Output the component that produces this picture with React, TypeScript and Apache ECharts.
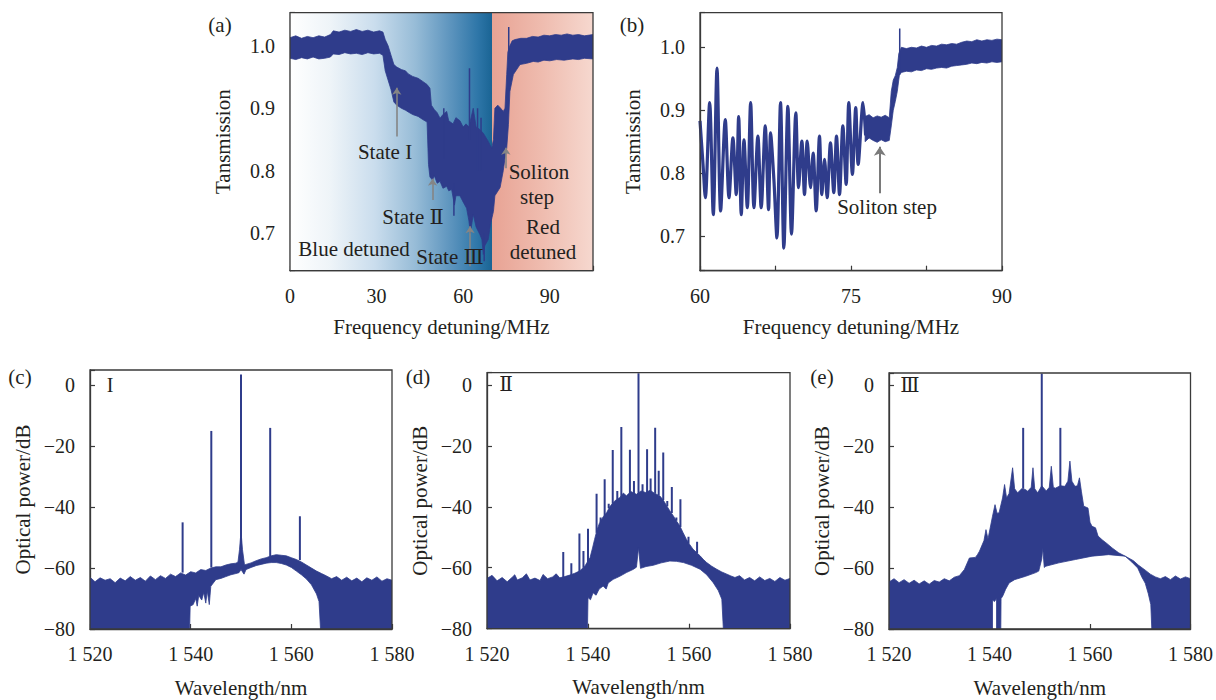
import React, { useEffect, useRef } from 'react';
import * as echarts from 'echarts';

const NAVY = '#2f3c8b';
const FONT = "'Liberation Serif', 'Times New Roman', 'DejaVu Serif', serif";
const TXT = '#231f20';
const AXC = '#3a3a3a';

// ---------- Panel (a): transmission vs detuning ----------
const aUpper = [
  [0, 1.013], [2, 1.016], [4, 1.012], [6, 1.015], [8, 1.013], [10, 1.016], [12, 1.014], [14, 1.018],
  [15, 1.024], [17, 1.022], [19, 1.025], [21, 1.023], [23, 1.026], [25, 1.023], [27, 1.025], [29, 1.022],
  [31, 1.024], [32.2, 1.022], [33, 1.01], [34, 1.0], [35, 0.985], [36, 0.97], [37, 0.966], [38.6, 0.962],
  [40, 0.96], [41, 0.955], [42.5, 0.951], [44.4, 0.948], [46, 0.943], [47.5, 0.938], [48.5, 0.932],
  [49, 0.905], [50, 0.898], [51, 0.893], [52, 0.884], [53, 0.89], [54.3, 0.895], [55, 0.88], [56.5, 0.875],
  [57.5, 0.885], [58.9, 0.88], [60, 0.87], [61, 0.875], [62, 0.87], [63.5, 0.9], [64.5, 0.87], [65.8, 0.866],
  [67, 0.86], [68.7, 0.847], [69.9, 0.836], [70.5, 0.85], [71, 0.9], [72, 0.905], [73, 0.9], [73.9, 0.895],
  [74.5, 0.9], [75.1, 0.954], [75.5, 0.99], [76.2, 1.0], [77, 1.008], [78, 1.01], [80, 1.012], [82, 1.012],
  [84, 1.015], [86, 1.014], [88, 1.017], [90, 1.016], [92, 1.018], [94, 1.017], [96, 1.019], [98, 1.017],
  [100, 1.018], [102, 1.016], [105, 1.018],
];
const aLower = [
  [0, 0.98], [2, 0.978], [4, 0.981], [6, 0.979], [8, 0.982], [10, 0.979], [12, 0.98], [14, 0.982],
  [15, 0.987], [17, 0.986], [19, 0.989], [21, 0.987], [23, 0.988], [25, 0.986], [27, 0.989], [29, 0.987],
  [31, 0.988], [32.2, 0.985], [33, 0.96], [34, 0.945], [35, 0.93], [36, 0.91], [37, 0.905], [38.6, 0.9],
  [40, 0.897], [41, 0.894], [42.5, 0.89], [44.4, 0.887], [46, 0.882], [47.5, 0.878], [48, 0.81], [48.5, 0.79],
  [49.4, 0.785], [50, 0.792], [51, 0.78], [52, 0.783], [53, 0.772], [54.3, 0.775], [55, 0.768], [56, 0.77],
  [57, 0.745], [57.5, 0.76], [58.9, 0.76], [60, 0.75], [61.2, 0.74], [62, 0.72], [62.5, 0.7], [63, 0.715],
  [63.5, 0.73], [64.5, 0.71], [65.8, 0.698], [66.5, 0.69], [67, 0.666], [67.5, 0.68], [68.7, 0.69],
  [69.5, 0.715], [70.5, 0.735], [71, 0.76], [72.8, 0.773], [73.9, 0.8], [74.5, 0.82], [75.1, 0.836],
  [75.7, 0.874], [76.2, 0.927], [77.4, 0.954], [79.7, 0.97], [82, 0.972], [84.3, 0.975], [86, 0.974],
  [88, 0.977], [90, 0.976], [92.4, 0.978], [95, 0.977], [98, 0.979], [100, 0.978], [102, 0.98], [105, 0.979],
];
// [x, from, to]
const aSpikes = [
  [53.3, 0.82, 0.9], [56.8, 0.78, 0.728], [62.2, 0.85, 0.964], [65.0, 0.8, 0.9], [66.2, 0.8, 0.885],
  [67.3, 0.7, 0.655], [75.8, 0.98, 1.03],
];
const aTicksX = [0, 30, 60, 90];
const aTicksY = [0.7, 0.8, 0.9, 1.0];

// ---------- Panel (b): zoomed transmission ----------
const bLine = [
  [60.0, 0.883], [60.3, 0.814], [60.53, 0.761], [60.96, 0.912], [61.32, 0.734], [61.69, 0.967], [62.05, 0.74],
  [62.51, 0.885], [62.88, 0.761], [63.27, 0.856], [63.6, 0.766], [63.84, 0.89], [64.1, 0.734], [64.37, 0.853],
  [64.7, 0.745], [65.03, 0.912], [65.36, 0.745], [65.75, 0.859], [66.08, 0.745], [66.48, 0.875], [66.81, 0.742],
  [67.01, 0.864], [67.34, 0.79], [67.64, 0.697], [68.0, 0.912], [68.33, 0.681], [68.73, 0.906], [69.09, 0.703],
  [69.52, 0.896], [69.79, 0.777], [70.12, 0.851], [70.38, 0.766], [70.65, 0.851], [70.98, 0.777], [71.24, 0.832],
  [71.54, 0.74], [71.87, 0.859], [72.1, 0.766], [72.37, 0.822], [72.63, 0.761], [72.96, 0.848], [73.29, 0.769],
  [73.56, 0.859], [73.86, 0.766], [74.19, 0.875], [74.52, 0.782], [74.78, 0.912], [75.14, 0.798], [75.47, 0.904],
  [75.71, 0.814], [76.2, 0.912], [76.45, 0.86],
];
const bUpper = [
  [76.4, 0.89], [76.8, 0.893], [77.2, 0.888], [77.6, 0.891], [78.0, 0.889], [78.4, 0.892], [78.8, 0.888],
  [79.0, 0.93], [79.2, 0.948], [79.4, 0.955], [79.6, 0.968], [79.75, 0.99], [80, 1.0], [80.5, 0.998], [81, 1.0],
  [81.5, 0.999], [82, 1.002], [82.5, 1.0], [83, 1.003], [83.5, 1.002], [84, 1.005], [84.5, 1.004], [85, 1.006],
  [85.5, 1.005], [86, 1.008], [86.5, 1.01], [87, 1.009], [87.5, 1.012], [88, 1.01], [88.5, 1.012], [89, 1.011],
  [89.5, 1.013], [90, 1.012],
];
const bLower = [
  [76.4, 0.85], [76.8, 0.856], [77.2, 0.852], [77.6, 0.849], [78.0, 0.853], [78.4, 0.85], [78.8, 0.852],
  [79.0, 0.875], [79.2, 0.9], [79.4, 0.914], [79.6, 0.93], [79.8, 0.955], [80, 0.96], [80.5, 0.962], [81, 0.961],
  [81.5, 0.964], [82, 0.963], [82.5, 0.966], [83, 0.965], [83.5, 0.967], [84, 0.968], [84.5, 0.967], [85, 0.97],
  [85.5, 0.971], [86, 0.972], [86.5, 0.973], [87, 0.975], [87.5, 0.974], [88, 0.976], [88.5, 0.975], [89, 0.977],
  [89.5, 0.976], [90, 0.977],
];
const bSpikes = [[79.84, 0.96, 1.03]];
const bTicksX = [60, 75, 90];

// ---------- Panel (c): spectrum, state I ----------
const cUpper = [
  [1520, -63], [1521, -64.5], [1522, -63.2], [1523, -64], [1524, -63.5], [1525, -64.8], [1526, -63.3],
  [1527, -64.2], [1528, -62.8], [1529, -64], [1530, -63.1], [1531, -64.3], [1532, -62.6], [1533, -63.8],
  [1534, -62.5], [1535, -63.4], [1536, -62], [1537, -62.8], [1538, -61.6], [1539, -62.3], [1540, -61.2],
  [1541, -61.6], [1542, -60.5], [1543, -60.8], [1544, -60], [1545, -59.6], [1546, -59.6], [1547, -59],
  [1548, -58.6], [1549, -58.4], [1549.4, -58], [1549.7, -54], [1549.9, -50], [1550.1, -50], [1550.3, -54],
  [1550.7, -59], [1551, -58.8], [1552, -58.3], [1553, -57.6], [1554, -57], [1555, -56.6], [1556, -56],
  [1557, -55.6], [1558, -55.8], [1559, -56], [1560, -56.6], [1561, -57.2], [1562, -58], [1563, -59],
  [1564, -60], [1565, -61], [1566, -61.8], [1567, -62.6], [1568, -63.5], [1569, -62.8], [1570, -64],
  [1571, -63], [1572, -64.2], [1573, -63.3], [1574, -64.5], [1575, -63.2], [1576, -64], [1577, -62.9],
  [1578, -64.3], [1579, -63.5], [1580, -64],
];
const cLower = [
  [1520, -80], [1539.8, -80], [1539.9, -72.5], [1540.5, -72], [1541, -70], [1541.3, -72.5], [1541.6, -69],
  [1542.2, -70.5], [1542.6, -68], [1543, -71.5], [1543.3, -67.5], [1543.7, -72], [1544, -66], [1545, -63.8],
  [1546, -63.4], [1547, -62.8], [1548, -62.2], [1549, -61.8], [1549.6, -61.5], [1550, -60.5], [1550.6, -62],
  [1551, -60.5], [1552, -59.8], [1553, -59.2], [1554, -58.8], [1555, -58.4], [1556, -58.2], [1557, -58.2],
  [1558, -58.5], [1559, -59], [1560, -59.8], [1561, -61], [1562, -62.2], [1563, -63.6], [1564, -65.5],
  [1565, -68.5], [1565.5, -71], [1565.8, -80], [1580, -80],
];
// [x, base, top]
const cSpikes = [
  [1538.4, -61.5, -45], [1544.1, -59.8, -15], [1550, -52, 3.5], [1555.8, -56.2, -14], [1561.7, -57.4, -43],
];

// ---------- Panel (d): spectrum, state II ----------
const dUpper = [
  [1520, -63.5], [1521, -62.5], [1522, -64.3], [1523, -63.2], [1524, -64.6], [1525, -63.1], [1525.5, -62.3],
  [1526, -64], [1527, -63.3], [1527.8, -62], [1528.5, -64], [1529.5, -63.4], [1530.5, -64.2], [1531.1, -62.2],
  [1532, -63.6], [1533, -63], [1533.7, -62], [1534.4, -63.3], [1535.4, -62.9], [1536.4, -62.4], [1537.4, -61.8],
  [1538.4, -61], [1539.4, -59.4], [1540.4, -56.7], [1540.9, -53.5], [1541.3, -50.7], [1541.8, -47.5],
  [1542.3, -45.2], [1543.0, -43.3], [1543.7, -41.9], [1544.3, -40], [1545.0, -38.6], [1545.6, -37.6],
  [1546.3, -37], [1547, -35.5], [1547.6, -36.4], [1548.5, -35], [1549.6, -35.9], [1550.5, -34.8],
  [1551.4, -35.3], [1552.3, -34.6], [1553.2, -35.6], [1554.2, -36.4], [1554.9, -37.8], [1555.6, -39.7],
  [1556.2, -41.3], [1556.9, -43], [1557.5, -44.6], [1558.2, -46.3], [1558.8, -48.4], [1559.5, -50.7],
  [1560.1, -52.3], [1560.8, -53.9], [1561.5, -55], [1562.2, -56.1], [1562.8, -57.2], [1563.5, -58.3],
  [1564.5, -59.5], [1565.5, -60.5], [1566.5, -61.4], [1567.5, -62.1], [1568.3, -62.7], [1569.1, -63.2],
  [1570, -62.6], [1571, -64], [1572, -63.2], [1573, -64.3], [1574, -63], [1575, -64.2], [1576, -63.5],
  [1577, -64.5], [1578, -63.2], [1579, -64.1], [1580, -63.5],
];
const dLower = [
  [1520, -80], [1539.9, -80], [1540.0, -69.8], [1540.5, -70.5], [1541.0, -68.2], [1541.6, -69], [1542.2, -67],
  [1543.0, -66], [1543.6, -67], [1544, -65], [1545.0, -63.8], [1546.3, -62.8], [1547.6, -61.6], [1549.0, -60.5],
  [1549.6, -59.8], [1550.0, -53.4], [1550.4, -60.2], [1551.5, -59.6], [1552.9, -59.2], [1554.5, -58.4],
  [1556.2, -57.8], [1557.5, -57.9], [1558.9, -58.3], [1560.5, -59.2], [1562.2, -60.5], [1563.5, -62.3],
  [1564.8, -64.9], [1565.8, -67.5], [1566.5, -70.3], [1566.8, -80], [1580, -80],
];
const dSpikes = [
  [1535.1, -63, -54.8], [1536.7, -62.5, -58.5], [1538.3, -61.3, -48.8], [1539.1, -60, -54.5],
  [1540.0, -58.3, -47.2], [1541.7, -48.5, -35.7], [1542.5, -45, -43.5], [1543.3, -43, -31], [1544.1, -40.5, -39],
  [1544.9, -39, -21.4], [1545.8, -37.5, -34.8], [1546.6, -37, -13.8], [1548.3, -36.2, -21.3], [1549.1, -36, -31.5],
  [1550.0, -36, 3.8], [1550.8, -35.6, -32.6], [1551.7, -35.4, -21.1], [1552.4, -35.3, -30.7], [1553.3, -35.7, -14.1],
  [1554.0, -36.2, -28.2], [1554.9, -37.8, -22.2], [1555.7, -39.8, -38.1], [1556.6, -42, -33.5],
  [1557.5, -44.6, -43.5], [1558.3, -46.6, -37.5], [1559.9, -52, -49.8], [1561.6, -55.2, -51.5],
];

// ---------- Panel (e): spectrum, state III ----------
const eUpper = [
  [1520, -64.6], [1521, -63.5], [1522, -64.8], [1523, -63.8], [1524, -65], [1525, -64], [1526, -65.2],
  [1527, -64.2], [1528, -65.3], [1529, -64.1], [1530, -64.6], [1531, -63.5], [1532, -64.2], [1533, -63],
  [1534, -62.5], [1535, -60.5], [1536, -56.7], [1537.2, -56.5], [1537.6, -55.6], [1538.0, -54.5], [1538.9, -51],
  [1539.3, -47.4], [1539.7, -50.5], [1540.6, -43], [1541.1, -39.2], [1541.5, -42], [1541.9, -41.9],
  [1542.6, -37], [1543.0, -32.6], [1543.4, -37], [1543.9, -35.5], [1544.6, -27.1], [1545.0, -34],
  [1545.6, -35.3], [1546.4, -34], [1547.1, -34.2], [1547.6, -34.8], [1548.3, -33.5], [1548.65, -27.1],
  [1549.0, -34], [1549.6, -35.3], [1550.4, -33], [1551.3, -34.7], [1551.9, -33.5], [1552.3, -26.6],
  [1552.7, -33.5], [1553.1, -33.8], [1554.1, -33], [1555.0, -33.2], [1555.6, -31.5], [1556.0, -24.9],
  [1556.4, -31.5], [1557.0, -33.2], [1557.5, -33], [1557.9, -30.4], [1558.3, -35], [1558.75, -39.7],
  [1559.6, -40.3], [1560.0, -45], [1560.4, -46.3], [1561.1, -46.8], [1561.6, -49.5], [1562.4, -50.7],
  [1563.4, -52], [1564.4, -53.4], [1565.7, -55], [1567.0, -56.1], [1568.65, -57.6], [1569.6, -59],
  [1571, -60.7], [1572, -62], [1573, -62.9], [1574, -63.5], [1575, -62.8], [1576, -63.8], [1577, -62.6],
  [1578, -63.6], [1579, -62.9], [1580, -63.5],
];
const eLower = [
  [1520, -80], [1540.6, -80], [1540.6, -70.5], [1541.0, -71], [1541.4, -70], [1541.4, -80], [1542.25, -80],
  [1542.3, -70], [1542.6, -69.3], [1543.2, -67], [1543.9, -64.9], [1545, -63.8], [1547.2, -62.7],
  [1549.2, -61.5], [1549.8, -61], [1550.4, -57], [1550.6, -53.4], [1550.9, -59.8], [1551.2, -59.4],
  [1553.8, -58.3], [1557.1, -57.2], [1560.4, -56.1], [1563.7, -55.6], [1567, -56.1], [1568.3, -58],
  [1569.5, -60], [1570.3, -62.9], [1571, -65], [1571.6, -68.4], [1572.1, -72], [1572.3, -80], [1580, -80],
];
const eSpikes = [[1546.7, -34, -14], [1550.4, -34, 3.8], [1554.1, -34, -14]];

const specTicksX = [1520, 1540, 1560, 1580];
const specTicksY = [-80, -60, -40, -20, 0];

function bandSeries(idx: number, upper: number[][], lower: number[][]) {
  const poly = [...upper, ...lower.slice().reverse()];
  return {
    type: 'custom', xAxisIndex: idx, yAxisIndex: idx, z: 3, clip: true, silent: true,
    data: poly,
    renderItem: (params: any, api: any) => {
      if (params.dataIndex !== 0) return null;
      const pts = poly.map((p) => api.coord(p));
      return { type: 'polygon', shape: { points: pts }, style: { fill: NAVY, stroke: NAVY, lineWidth: 0.8 } };
    },
  };
}

function spikeSeries(idx: number, list: number[][], width = 2) {
  return {
    type: 'custom', xAxisIndex: idx, yAxisIndex: idx, z: 4, clip: true, silent: true,
    data: list,
    encode: { x: 0, y: [1, 2] },
    renderItem: (params: any, api: any) => {
      const x = api.value(0), b = api.value(1), t = api.value(2);
      const p1 = api.coord([x, b]);
      const p2 = api.coord([x, t]);
      return { type: 'line', shape: { x1: p1[0], y1: p1[1], x2: p2[0], y2: p2[1] }, style: { stroke: NAVY, lineWidth: width } };
    },
  };
}

const near = (v: number, arr: number[]) => arr.some((a) => Math.abs(a - v) < 1e-6);
const fmtSpace = (v: number) => { const s = String(Math.round(v)); return s.length === 4 ? s[0] + ' ' + s.slice(1) : s; };
const fmtMinus = (v: number) => (v < 0 ? '\u2212' + Math.abs(Math.round(v)) : String(Math.round(v)));

function mkX(idx: number, min: number, max: number, interval: number, shown: number[], fmt: (v: number) => string, name: string, gap: number) {
  return {
    gridIndex: idx, type: 'value', min, max, interval,
    name, nameLocation: 'middle', nameGap: gap,
    nameTextStyle: { fontFamily: FONT, fontSize: 21, color: TXT },
    axisLine: { show: true, onZero: false, lineStyle: { color: AXC, width: 1.3 } },
    axisTick: { show: true, inside: true, length: 5, lineStyle: { color: AXC, width: 1.2 } },
    axisLabel: { margin: 15, fontFamily: FONT, fontSize: 20, color: TXT, formatter: (v: number) => (near(v, shown) ? fmt(v) : '') },
    splitLine: { show: false },
  };
}
function mkY(idx: number, min: number, max: number, interval: number | undefined, shown: number[], fmt: (v: number) => string, name: string, gap: number) {
  const o: any = {
    gridIndex: idx, type: 'value', min, max,
    name, nameLocation: 'middle', nameGap: gap,
    nameTextStyle: { fontFamily: FONT, fontSize: 21, color: TXT },
    axisLine: { show: true, onZero: false, lineStyle: { color: AXC, width: 1.3 } },
    axisTick: { show: true, inside: true, length: 5, lineStyle: { color: AXC, width: 1.2 } },
    axisLabel: { margin: 15, fontFamily: FONT, fontSize: 20, color: TXT, formatter: (v: number) => (near(v, shown) ? fmt(v) : '') },
    splitLine: { show: false },
  };
  if (interval !== undefined) o.interval = interval;
  return o;
}

const txt = (x: number, y: number, text: string, size = 21) => ({
  type: 'text', x, y, z: 50,
  style: { text, fontSize: size, fontFamily: FONT, fill: TXT, align: 'center', verticalAlign: 'middle' },
});

export default function App() {
  const ref = useRef<HTMLDivElement>(null);
  useEffect(() => {
    if (!ref.current) return;
    const chart = echarts.init(ref.current, undefined, { renderer: 'svg' });
    const gridBase = { show: true, borderColor: AXC, borderWidth: 1.3, backgroundColor: 'transparent', z: 10 };
    const arrowStyle = { color: '#858585', width: 1.6, type: 'solid' };
    chart.setOption({
      animation: false,
      backgroundColor: '#ffffff',
      grid: [
        { ...gridBase, left: 290, top: 12.7, width: 303, height: 258 },
        { ...gridBase, left: 700, top: 12.7, width: 302, height: 258 },
        { ...gridBase, left: 90, top: 370, width: 302, height: 259 },
        { ...gridBase, left: 487, top: 372.7, width: 303, height: 256 },
        { ...gridBase, left: 889, top: 373, width: 303, height: 256 },
      ],
      xAxis: [
        mkX(0, 0, 105, 30, aTicksX, (v) => String(v), 'Frequency detuning/MHz', 46),
        mkX(1, 60, 90, 7.5, bTicksX, (v) => String(v), 'Frequency detuning/MHz', 46),
        mkX(2, 1520, 1580, 20, specTicksX, fmtSpace, 'Wavelength/nm', 48),
        mkX(3, 1520, 1580, 20, specTicksX, fmtSpace, 'Wavelength/nm', 48),
        mkX(4, 1520, 1580, 20, specTicksX, fmtSpace, 'Wavelength/nm', 48),
      ],
      yAxis: [
        mkY(0, 0.64, 1.053, undefined, aTicksY, (v) => v.toFixed(1), 'Tansmission', 57),
        mkY(1, 0.645, 1.055, undefined, aTicksY, (v) => v.toFixed(1), 'Tansmission', 57),
        mkY(2, -80, 5, 20, specTicksY, fmtMinus, 'Optical power/dB', 57),
        mkY(3, -80, 4, 20, specTicksY, fmtMinus, 'Optical power/dB', 57),
        mkY(4, -80, 4, 20, specTicksY, fmtMinus, 'Optical power/dB', 57),
      ],
      series: [
        {
          type: 'line', xAxisIndex: 0, yAxisIndex: 0, data: [], z: 1, silent: true,
          markArea: {
            silent: true,
            data: [
              [{ xAxis: 0, itemStyle: { color: new echarts.graphic.LinearGradient(0, 0, 1, 0, [
                { offset: 0, color: '#ffffff' }, { offset: 0.2, color: '#eef4f8' }, { offset: 0.42, color: '#cadded' },
                { offset: 0.62, color: '#97bcd7' }, { offset: 0.8, color: '#5b93bd' }, { offset: 0.93, color: '#2e76a8' },
                { offset: 1, color: '#1a6494' },
              ]) } }, { xAxis: 70 }],
              [{ xAxis: 70, itemStyle: { color: new echarts.graphic.LinearGradient(0, 0, 1, 0, [
                { offset: 0, color: '#e8a394' }, { offset: 0.5, color: '#efbcaf' }, { offset: 1, color: '#f6d8cf' },
              ]) } }, { xAxis: 105 }],
            ],
          },
        },
        bandSeries(0, aUpper, aLower),
        spikeSeries(0, aSpikes, 1.5),
        {
          type: 'line', xAxisIndex: 0, yAxisIndex: 0, data: [], z: 6, silent: true,
          markLine: {
            silent: true, symbol: ['none', 'arrow'], symbolSize: 7, label: { show: false },
            lineStyle: arrowStyle,
            data: [
              [{ coord: [37.0, 0.855] }, { coord: [37.0, 0.933] }],
              [{ coord: [49.4, 0.753] }, { coord: [49.4, 0.787] }],
              [{ coord: [62.4, 0.647] }, { coord: [62.4, 0.711] }],
              [{ coord: [74.8, 0.804] }, { coord: [74.8, 0.837] }],
            ],
          },
        },
        {
          type: 'line', xAxisIndex: 1, yAxisIndex: 1, data: bLine, z: 3, clip: true, silent: true,
          showSymbol: false, smooth: 0.3, lineStyle: { color: NAVY, width: 3.2 },
        },
        bandSeries(1, bUpper, bLower),
        spikeSeries(1, bSpikes, 1.5),
        {
          type: 'line', xAxisIndex: 1, yAxisIndex: 1, data: [], z: 6, silent: true,
          markLine: {
            silent: true, symbol: ['none', 'arrow'], symbolSize: 9, label: { show: false },
            lineStyle: { color: '#7a7a7a', width: 2, type: 'solid' },
            data: [[{ coord: [77.86, 0.768] }, { coord: [77.86, 0.842] }]],
          },
        },
        bandSeries(2, cUpper, cLower),
        spikeSeries(2, cSpikes, 2),
        bandSeries(3, dUpper, dLower),
        spikeSeries(3, dSpikes, 2),
        bandSeries(4, eUpper, eLower),
        spikeSeries(4, eSpikes, 2),
      ],
      graphic: [
        txt(220, 25, '(a)'), txt(632, 25, '(b)'), txt(20, 377, '(c)'), txt(418, 377, '(d)'), txt(822, 377, '(e)'),
        txt(110, 385, 'I', 20), txt(506, 384, 'Ⅱ', 20), txt(910, 385, 'Ⅲ', 20),
        txt(385, 152, 'State I'), txt(413, 217, 'State Ⅱ'), txt(450, 257, 'State Ⅲ'),
        txt(354, 249, 'Blue detuned'),
        txt(539, 172, 'Soliton'), txt(537, 197, 'step'), txt(543, 227, 'Red'), txt(543, 252, 'detuned'),
        txt(887, 207, 'Soliton step'),
      ],
    });
    return () => chart.dispose();
  }, []);
  return <div ref={ref} style={{ position: 'fixed', left: 0, top: 0, width: 1216, height: 700, background: '#fff' }} />;
}
